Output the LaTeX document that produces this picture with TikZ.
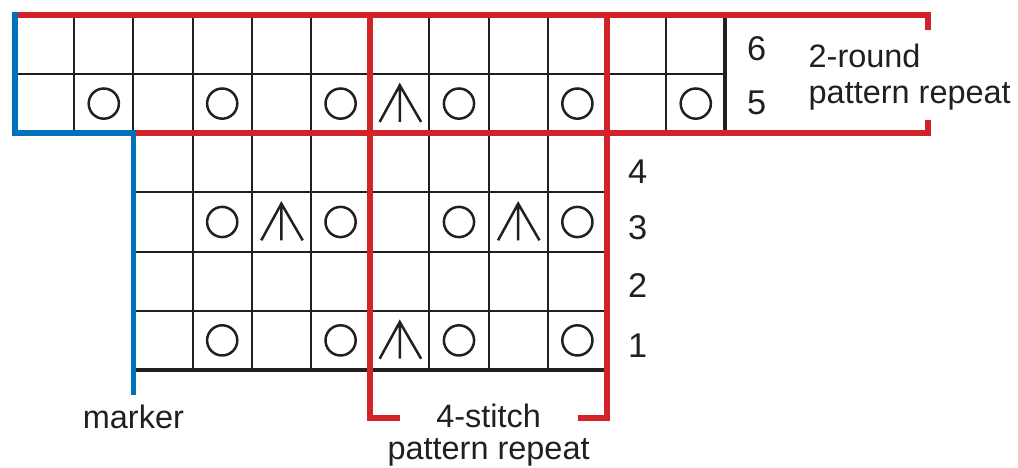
\documentclass[tikz,border=0pt]{standalone}
\usepackage{fontspec}
\setmainfont{Liberation Sans}
\definecolor{repred}{RGB}{210,35,42}
\definecolor{markblue}{RGB}{0,114,188}
\definecolor{ink}{RGB}{35,31,32}
\begin{document}
\begin{tikzpicture}[x=1cm, y=1cm,
    gridline/.style={ink, line width=1pt},
    edge/.style={ink, line width=1.9pt},
    rep/.style={repred, line width=2.6pt},
    markerline/.style={markblue, line width=2.6pt},
    sym/.style={ink, line width=1.2pt},
    num/.style={text=ink, font=\fontsize{16.5}{19}\selectfont},
    lbl/.style={text=ink, align=center, inner sep=0pt}]
    \useasboundingbox (-0.2534,-1.655) rectangle (16.943,6.25);

    % chart cells: rounds 5-6 full width, rounds 1-4 between marker and repeat
    \draw[gridline] (0,4) grid (12,6);
    \draw[gridline] (2,0) grid (10,4);
    \draw[edge] (12,4) -- (12,6);
    \draw[edge] (2,0) -- (10,0);

    % yarn overs
    \foreach \c/\r in {1/5,3/5,5/5,7/5,9/5,11/5,3/3,5/3,7/3,9/3,3/1,5/1,7/1,9/1}
        \draw[sym] (\c+0.5,\r-0.5) circle (0.255);
    % centred double decreases
    \foreach \c/\r in {6/5,4/3,8/3,6/1}
        \draw[sym] (\c+0.16,\r-0.81) -- (\c+0.5,\r-0.19) -- (\c+0.86,\r-0.81)
                   (\c+0.5,\r-0.19) -- (\c+0.5,\r-0.81);

    % 2-round repeat
    \draw[rep] (0,6) -- (15.42,6) -- (15.42,5.74);
    \draw[rep] (2,4) -- (15.42,4) -- (15.42,4.22);
    % 4-stitch repeat
    \draw[rep] (6.5,-0.81) -- (6,-0.81) -- (6,6);
    \draw[rep] (9.51,-0.81) -- (10,-0.81) -- (10,6);
    % marker
    \draw[markerline] (0,6.046) -- (0,4) -- (2,4) -- (2,-0.42);

    % round numbers
    \node[num] (r6) at (12.53,5.42) {6};
    \node[num] (r5) at (12.53,4.51) {5};
    \node[num] (r4) at (10.52,3.35) {4};
    \node[num] (r3) at (10.52,2.41) {3};
    \node[num] (r2) at (10.52,1.42) {2};
    \node[num] (r1) at (10.52,0.41) {1};

    \node[lbl, align=left, anchor=west, font=\fontsize{15.6}{17.3}\selectfont]
        (roundrep) at (13.40,4.94) {2-round\\pattern repeat};
    \node[lbl, font=\fontsize{15.6}{15.4}\selectfont]
        (stitchrep) at (8.0,-1.105) {4-stitch\\pattern repeat};
    \node[lbl, anchor=base, font=\fontsize{15.6}{19}\selectfont]
        (markerlbl) at (2.0,-0.98) {marker};
\end{tikzpicture}
\end{document}
